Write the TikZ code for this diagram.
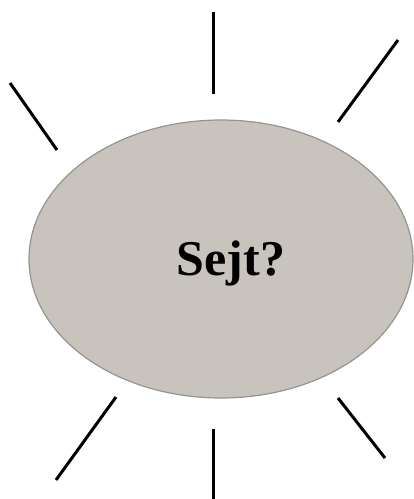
\documentclass[tikz,border=0pt]{standalone}
\usepackage{fontspec}
\setmainfont{Liberation Serif}
\usetikzlibrary{shapes.geometric}
\definecolor{cellfill}{RGB}{200,196,189}
\definecolor{cellrim}{RGB}{150,148,145}
\definecolor{raydark}{RGB}{0,0,0}

\begin{document}
\begin{tikzpicture}[x=1pt, y=-1pt,
  cell/.style={ellipse, draw=cellrim, fill=cellfill, line width=1.2pt,
    minimum width=384pt, minimum height=278pt, inner sep=0pt},
  celltext/.style={font=\fontsize{50}{60}\selectfont\bfseries, anchor=base,
    inner sep=0pt},
  ray/.style={line width=3pt, color=raydark}
]
  \useasboundingbox (0,0) rectangle (414,499);

  % central cell
  \node[cell] (sejt) at (221,259) {};
  \node[celltext] (title) at (231,275) {Sejt?};

  % ray end points
  \coordinate (nIn)  at (213,94);   \coordinate (nOut)  at (213,12);
  \coordinate (neIn) at (338,122);  \coordinate (neOut) at (398,40);
  \coordinate (nwIn) at (57,150);   \coordinate (nwOut) at (10,83);
  \coordinate (swIn) at (116,397);  \coordinate (swOut) at (56,480);
  \coordinate (sIn)  at (213,429);  \coordinate (sOut)  at (213,499);
  \coordinate (seIn) at (338,398);  \coordinate (seOut) at (385,458);

  % rays round the cell
  \foreach \r in {n,ne,nw,sw,s,se}
    \draw[ray] (\r In) -- (\r Out);
\end{tikzpicture}
\end{document}
